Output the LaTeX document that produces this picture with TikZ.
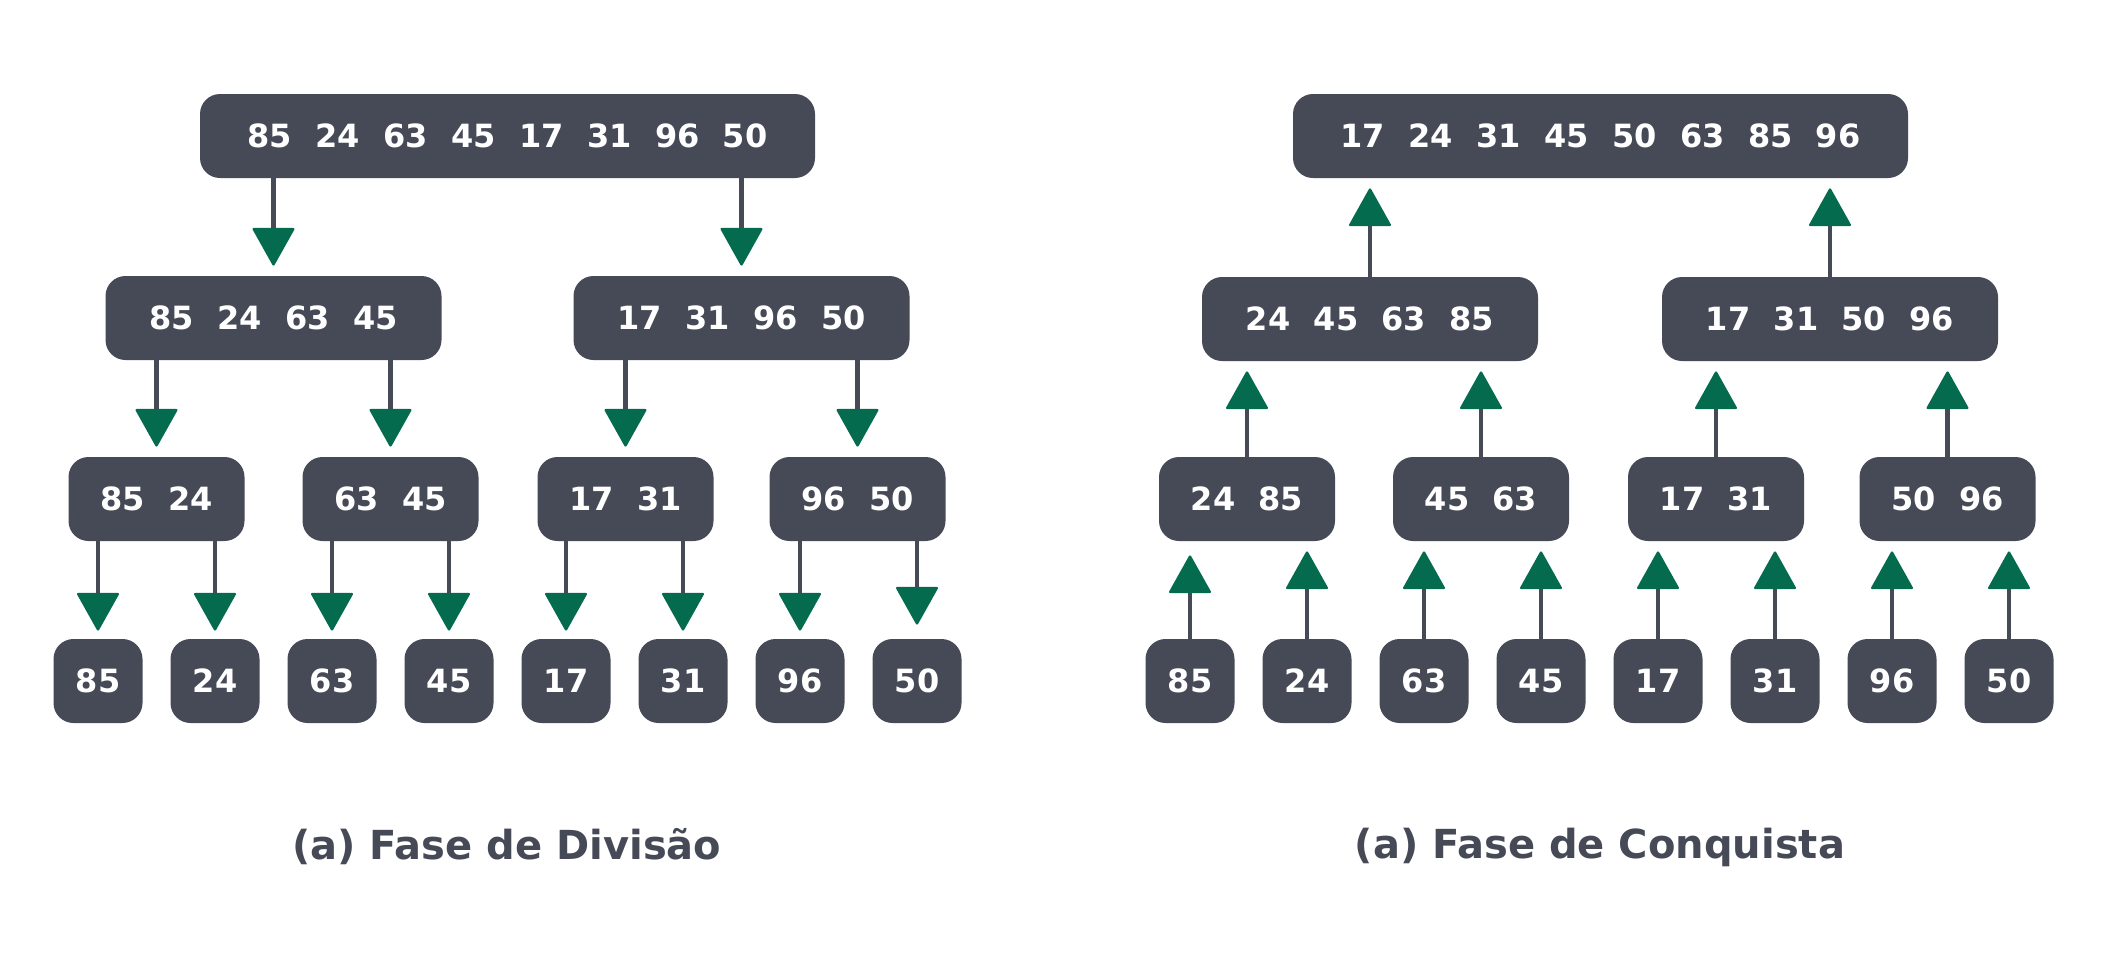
\documentclass[tikz,border=0pt]{standalone}
\usepackage{fontspec}
\setmainfont{DejaVu Sans}
\usetikzlibrary{arrows.meta}
\definecolor{boxgray}{HTML}{464A57}
\definecolor{arrgreen}{HTML}{046B4F}
\newcommand\ngap{\hspace{0.73em}}
\begin{document}
\begin{tikzpicture}[x=0.5pt,y=-0.5pt,
 nbox/.style={fill=boxgray, rounded corners=10pt, text=white, font=\fontsize{16}{19}\selectfont\bfseries, inner sep=0pt, minimum height=42pt, anchor=center},
 wa/.style={nbox, minimum width=307.5pt},
 wb/.style={nbox, minimum width=168pt},
 wc/.style={nbox, minimum width=88pt},
 wd/.style={nbox, minimum width=44.5pt},
 conn/.style={draw=boxgray, line width=2.25pt, -{Triangle[width=21.5pt,length=19.5pt,round,color=arrgreen,fill=arrgreen,line width=1.2pt]}, shorten >=5pt},
 captext/.style={text=boxgray, font=\fontsize{20}{24}\selectfont\bfseries}]
\useasboundingbox (0,0) rectangle (2107,965);
% ---------- left tree ----------
\node[wa] (L0) at (507.5,136) {85\ngap24\ngap63\ngap45\ngap17\ngap31\ngap96\ngap50};
\node[wb] (L1a) at (273.5,318) {85\ngap24\ngap63\ngap45};
\node[wb] (L1b) at (741.5,318) {17\ngap31\ngap96\ngap50};
\node[wc] (L2a) at (156.5,499) {85\ngap24};
\node[wc] (L2b) at (390.5,499) {63\ngap45};
\node[wc] (L2c) at (625.5,499) {17\ngap31};
\node[wc] (L2d) at (857.5,499) {96\ngap50};
\node[wd] (L3a) at (98,681) {85};
\node[wd] (L3b) at (215,681) {24};
\node[wd] (L3c) at (332,681) {63};
\node[wd] (L3d) at (449,681) {45};
\node[wd] (L3e) at (566,681) {17};
\node[wd] (L3f) at (683,681) {31};
\node[wd] (L3g) at (800,681) {96};
\node[wd] (L3h) at (917,681) {50};
\draw[conn] (L0.south -| L1a) -- (L1a.north);
\draw[conn] (L0.south -| L1b) -- (L1b.north);
\draw[conn] (L1a.south -| L2a) -- (L2a.north);
\draw[conn] (L1a.south -| L2b) -- (L2b.north);
\draw[conn] (L1b.south -| L2c) -- (L2c.north);
\draw[conn] (L1b.south -| L2d) -- (L2d.north);
\draw[conn, shorten >=4pt] (L2a.south -| L3a) -- (L3a.north);
\draw[conn, shorten >=4pt] (L2a.south -| L3b) -- (L3b.north);
\draw[conn, shorten >=4pt] (L2b.south -| L3c) -- (L3c.north);
\draw[conn, shorten >=4pt] (L2b.south -| L3d) -- (L3d.north);
\draw[conn, shorten >=4pt] (L2c.south -| L3e) -- (L3e.north);
\draw[conn, shorten >=4pt] (L2c.south -| L3f) -- (L3f.north);
\draw[conn, shorten >=4pt] (L2d.south -| L3g) -- (L3g.north);
\draw[conn, shorten >=7pt] (L2d.south -| L3h) -- (L3h.north);
\node[captext] (capL) at (507,847) {(a) Fase de Divisão};
% ---------- right tree ----------
\node[wa] (R0) at (1600.5,136) {17\ngap24\ngap31\ngap45\ngap50\ngap63\ngap85\ngap96};
\node[wb] (R1a) at (1370,319) {24\ngap45\ngap63\ngap85};
\node[wb] (R1b) at (1830,319) {17\ngap31\ngap50\ngap96};
\node[wc] (R2a) at (1247,499) {24\ngap85};
\node[wc] (R2b) at (1481,499) {45\ngap63};
\node[wc] (R2c) at (1716,499) {17\ngap31};
\node[wc] (R2d) at (1947.5,499) {50\ngap96};
\node[wd] (R3a) at (1190,681) {85};
\node[wd] (R3b) at (1307,681) {24};
\node[wd] (R3c) at (1424,681) {63};
\node[wd] (R3d) at (1541,681) {45};
\node[wd] (R3e) at (1658,681) {17};
\node[wd] (R3f) at (1775,681) {31};
\node[wd] (R3g) at (1892,681) {96};
\node[wd] (R3h) at (2009,681) {50};
\draw[conn] (R1a.north) -- (R0.south -| R1a);
\draw[conn] (R1b.north) -- (R0.south -| R1b);
\draw[conn] (R2a.north) -- (R1a.south -| R2a);
\draw[conn] (R2b.north) -- (R1a.south -| R2b);
\draw[conn] (R2c.north) -- (R1b.south -| R2c);
\draw[conn] (R2d.north) -- (R1b.south -| R2d);
\draw[conn, shorten >=7pt] (R3a.north) -- (R2a.south -| R3a);
\draw[conn] (R3b.north) -- (R2a.south -| R3b);
\draw[conn] (R3c.north) -- (R2b.south -| R3c);
\draw[conn] (R3d.north) -- (R2b.south -| R3d);
\draw[conn] (R3e.north) -- (R2c.south -| R3e);
\draw[conn] (R3f.north) -- (R2c.south -| R3f);
\draw[conn] (R3g.north) -- (R2d.south -| R3g);
\draw[conn] (R3h.north) -- (R2d.south -| R3h);
\node[captext] (capR) at (1600,847) {(a) Fase de Conquista};
\end{tikzpicture}
\end{document}
